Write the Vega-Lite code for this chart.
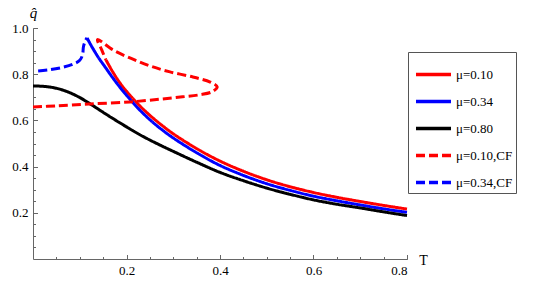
{
  "$schema": "https://vega.github.io/schema/vega-lite/v6.json",
  "autosize": "none",
  "width": 374,
  "height": 231,
  "padding": {"left": 33, "top": 28, "right": 138, "bottom": 35},
  "background": "white",
  "config": {
    "view": {"stroke": null},
    "font": "Liberation Serif",
    "axis": {"grid": false, "domainColor": "#666", "tickColor": "#666"}
  },
  "data": {"values": [
    {"s": "μ=0.10", "o": 1, "T": 0.156, "q": 0.862},
    {"s": "μ=0.10", "o": 2, "T": 0.17, "q": 0.812},
    {"s": "μ=0.10", "o": 3, "T": 0.185, "q": 0.765},
    {"s": "μ=0.10", "o": 4, "T": 0.2, "q": 0.726},
    {"s": "μ=0.10", "o": 5, "T": 0.225, "q": 0.67},
    {"s": "μ=0.10", "o": 6, "T": 0.25, "q": 0.622},
    {"s": "μ=0.10", "o": 7, "T": 0.275, "q": 0.58},
    {"s": "μ=0.10", "o": 8, "T": 0.3, "q": 0.542},
    {"s": "μ=0.10", "o": 9, "T": 0.35, "q": 0.478},
    {"s": "μ=0.10", "o": 10, "T": 0.4, "q": 0.424},
    {"s": "μ=0.10", "o": 11, "T": 0.45, "q": 0.38},
    {"s": "μ=0.10", "o": 12, "T": 0.5, "q": 0.343},
    {"s": "μ=0.10", "o": 13, "T": 0.55, "q": 0.313},
    {"s": "μ=0.10", "o": 14, "T": 0.6, "q": 0.288},
    {"s": "μ=0.10", "o": 15, "T": 0.65, "q": 0.267},
    {"s": "μ=0.10", "o": 16, "T": 0.7, "q": 0.249},
    {"s": "μ=0.10", "o": 17, "T": 0.75, "q": 0.232},
    {"s": "μ=0.10", "o": 18, "T": 0.8, "q": 0.216},

    {"s": "μ=0.34", "o": 1, "T": 0.1155, "q": 0.957},
    {"s": "μ=0.34", "o": 2, "T": 0.125, "q": 0.922},
    {"s": "μ=0.34", "o": 3, "T": 0.14, "q": 0.872},
    {"s": "μ=0.34", "o": 4, "T": 0.155, "q": 0.829},
    {"s": "μ=0.34", "o": 5, "T": 0.17, "q": 0.786},
    {"s": "μ=0.34", "o": 6, "T": 0.185, "q": 0.746},
    {"s": "μ=0.34", "o": 7, "T": 0.2, "q": 0.709},
    {"s": "μ=0.34", "o": 8, "T": 0.225, "q": 0.652},
    {"s": "μ=0.34", "o": 9, "T": 0.25, "q": 0.603},
    {"s": "μ=0.34", "o": 10, "T": 0.275, "q": 0.561},
    {"s": "μ=0.34", "o": 11, "T": 0.3, "q": 0.524},
    {"s": "μ=0.34", "o": 12, "T": 0.35, "q": 0.46},
    {"s": "μ=0.34", "o": 13, "T": 0.4, "q": 0.405},
    {"s": "μ=0.34", "o": 14, "T": 0.45, "q": 0.362},
    {"s": "μ=0.34", "o": 15, "T": 0.5, "q": 0.326},
    {"s": "μ=0.34", "o": 16, "T": 0.55, "q": 0.297},
    {"s": "μ=0.34", "o": 17, "T": 0.6, "q": 0.272},
    {"s": "μ=0.34", "o": 18, "T": 0.65, "q": 0.252},
    {"s": "μ=0.34", "o": 19, "T": 0.7, "q": 0.234},
    {"s": "μ=0.34", "o": 20, "T": 0.75, "q": 0.217},
    {"s": "μ=0.34", "o": 21, "T": 0.8, "q": 0.202},

    {"s": "μ=0.80", "o": 1, "T": 0.0, "q": 0.749},
    {"s": "μ=0.80", "o": 2, "T": 0.025, "q": 0.747},
    {"s": "μ=0.80", "o": 3, "T": 0.05, "q": 0.739},
    {"s": "μ=0.80", "o": 4, "T": 0.075, "q": 0.723},
    {"s": "μ=0.80", "o": 5, "T": 0.1, "q": 0.699},
    {"s": "μ=0.80", "o": 6, "T": 0.125, "q": 0.668},
    {"s": "μ=0.80", "o": 7, "T": 0.15, "q": 0.635},
    {"s": "μ=0.80", "o": 8, "T": 0.175, "q": 0.603},
    {"s": "μ=0.80", "o": 9, "T": 0.2, "q": 0.572},
    {"s": "μ=0.80", "o": 10, "T": 0.225, "q": 0.542},
    {"s": "μ=0.80", "o": 11, "T": 0.25, "q": 0.515},
    {"s": "μ=0.80", "o": 12, "T": 0.275, "q": 0.49},
    {"s": "μ=0.80", "o": 13, "T": 0.3, "q": 0.466},
    {"s": "μ=0.80", "o": 14, "T": 0.35, "q": 0.419},
    {"s": "μ=0.80", "o": 15, "T": 0.4, "q": 0.375},
    {"s": "μ=0.80", "o": 16, "T": 0.45, "q": 0.339},
    {"s": "μ=0.80", "o": 17, "T": 0.5, "q": 0.307},
    {"s": "μ=0.80", "o": 18, "T": 0.55, "q": 0.28},
    {"s": "μ=0.80", "o": 19, "T": 0.6, "q": 0.256},
    {"s": "μ=0.80", "o": 20, "T": 0.65, "q": 0.237},
    {"s": "μ=0.80", "o": 21, "T": 0.7, "q": 0.221},
    {"s": "μ=0.80", "o": 22, "T": 0.75, "q": 0.204},
    {"s": "μ=0.80", "o": 23, "T": 0.8, "q": 0.188},

    {"s": "μ=0.10,CF", "o": 1, "T": 0.0, "q": 0.658},
    {"s": "μ=0.10,CF", "o": 2, "T": 0.05, "q": 0.663},
    {"s": "μ=0.10,CF", "o": 3, "T": 0.122, "q": 0.671},
    {"s": "μ=0.10,CF", "o": 4, "T": 0.2075, "q": 0.68},
    {"s": "μ=0.10,CF", "o": 5, "T": 0.272, "q": 0.692},
    {"s": "μ=0.10,CF", "o": 6, "T": 0.32, "q": 0.702},
    {"s": "μ=0.10,CF", "o": 7, "T": 0.357, "q": 0.711},
    {"s": "μ=0.10,CF", "o": 8, "T": 0.383, "q": 0.724},
    {"s": "μ=0.10,CF", "o": 9, "T": 0.394, "q": 0.745},
    {"s": "μ=0.10,CF", "o": 10, "T": 0.379, "q": 0.766},
    {"s": "μ=0.10,CF", "o": 11, "T": 0.342, "q": 0.788},
    {"s": "μ=0.10,CF", "o": 12, "T": 0.293, "q": 0.81},
    {"s": "μ=0.10,CF", "o": 13, "T": 0.25, "q": 0.836},
    {"s": "μ=0.10,CF", "o": 14, "T": 0.21, "q": 0.868},
    {"s": "μ=0.10,CF", "o": 15, "T": 0.171, "q": 0.905},
    {"s": "μ=0.10,CF", "o": 16, "T": 0.138, "q": 0.95},
    {"s": "μ=0.10,CF", "o": 17, "T": 0.147, "q": 0.905},
    {"s": "μ=0.10,CF", "o": 18, "T": 0.156, "q": 0.862},

    {"s": "μ=0.34,CF", "o": 1, "T": 0.011, "q": 0.814},
    {"s": "μ=0.34,CF", "o": 2, "T": 0.035, "q": 0.819},
    {"s": "μ=0.34,CF", "o": 3, "T": 0.064, "q": 0.83},
    {"s": "μ=0.34,CF", "o": 4, "T": 0.085, "q": 0.843},
    {"s": "μ=0.34,CF", "o": 5, "T": 0.1, "q": 0.86},
    {"s": "μ=0.34,CF", "o": 6, "T": 0.106, "q": 0.885},
    {"s": "μ=0.34,CF", "o": 7, "T": 0.108, "q": 0.92},
    {"s": "μ=0.34,CF", "o": 8, "T": 0.112, "q": 0.945},
    {"s": "μ=0.34,CF", "o": 9, "T": 0.1155, "q": 0.957}
  ]},
  "resolve": {"axis": {"x": "independent", "y": "independent"}},
  "layer": [
    {
      "mark": {"type": "point", "opacity": 0},
      "encoding": {
        "x": {"field": "T", "type": "quantitative", "scale": {"domain": [0, 0.8], "nice": false, "zero": false},
              "axis": {"orient": "bottom", "values": [0.05,0.1,0.15,0.2,0.25,0.3,0.35,0.4,0.45,0.5,0.55,0.6,0.65,0.7,0.75,0.8], "labels": false, "domain": false, "tickSize": 2.5, "offset": -2.5, "tickWidth": 1, "title": null}},
        "y": {"field": "q", "type": "quantitative", "scale": {"domain": [0, 1.0], "nice": false, "zero": false},
              "axis": {"orient": "left", "values": [0.05,0.1,0.15,0.2,0.25,0.3,0.35,0.4,0.45,0.5,0.55,0.6,0.65,0.7,0.75,0.8,0.85,0.9,0.95,1.0], "labels": false, "domain": false, "tickSize": 2.5, "offset": -2.5, "tickWidth": 1, "title": null}}
      }
    },
    {
      "mark": {"type": "point", "opacity": 0},
      "encoding": {
        "x": {"field": "T", "type": "quantitative",
              "axis": {"orient": "bottom", "values": [0.2,0.4,0.6,0.8], "labels": false, "domain": false, "tickSize": 4.5, "offset": -4.5, "tickWidth": 1, "title": null}},
        "y": {"field": "q", "type": "quantitative",
              "axis": {"orient": "left", "values": [0.2,0.4,0.6,0.8,1.0], "labels": false, "domain": false, "tickSize": 4.5, "offset": -4.5, "tickWidth": 1, "title": null}}
      }
    },
    {
      "mark": {"type": "line", "strokeWidth": 3, "interpolate": "catmull-rom"},
      "encoding": {
        "x": {"field": "T", "type": "quantitative",
              "axis": {"orient": "bottom", "values": [0.2,0.4,0.6,0.8], "format": ".1f", "ticks": false, "labelPadding": 5, "labelFont": "Liberation Serif", "labelFontSize": 13, "labelColor": "#000", "title": "T", "titleFont": "Liberation Serif", "titleAngle": 0, "titleX": 390, "titleY": 1, "titleAlign": "center", "titleBaseline": "middle", "titleFontSize": 14, "titleFontWeight": "normal", "titleColor": "#000"}},
        "y": {"field": "q", "type": "quantitative",
              "axis": {"orient": "left", "values": [0.2,0.4,0.6,0.8,1.0], "format": ".1f", "ticks": false, "labelPadding": 5, "labelFont": "Liberation Serif", "labelFontSize": 13, "labelColor": "#000", "title": "q̂", "titleFont": "Liberation Serif", "titleAngle": 0, "titleX": 0, "titleY": -16, "titleAlign": "center", "titleBaseline": "middle", "titleFontSize": 15, "titleFontStyle": "italic", "titleFontWeight": "normal", "titleColor": "#000"}},
        "order": {"field": "o", "type": "quantitative"},
        "color": {"field": "s", "type": "nominal",
                  "scale": {"domain": ["μ=0.10", "μ=0.34", "μ=0.80", "μ=0.10,CF", "μ=0.34,CF"], "range": ["#ff0000", "#0000ff", "#000000", "#ff0000", "#0000ff"]},
                  "legend": {"title": null, "orient": "none", "legendX": 375, "legendY": 24, "padding": 3, "symbolOffset": 3, "strokeColor": "#555", "fillColor": "white", "symbolType": "stroke", "symbolSize": 1225, "symbolStrokeWidth": 3.5, "labelFont": "Liberation Serif", "labelFontSize": 13, "labelColor": "#000", "labelOffset": 3, "rowPadding": 0}},
        "strokeDash": {"field": "s", "type": "nominal",
                  "scale": {"domain": ["μ=0.10", "μ=0.34", "μ=0.80", "μ=0.10,CF", "μ=0.34,CF"], "range": [[1, 0], [1, 0], [1, 0], [9, 4], [9, 4]]},
                  "legend": {"title": null, "orient": "none", "legendX": 375, "legendY": 24, "padding": 3, "symbolOffset": 3, "strokeColor": "#555", "fillColor": "white", "symbolType": "stroke", "symbolSize": 1225, "symbolStrokeWidth": 3.5, "labelFont": "Liberation Serif", "labelFontSize": 13, "labelColor": "#000", "labelOffset": 3, "rowPadding": 0}}
      }
    }
  ]
}
